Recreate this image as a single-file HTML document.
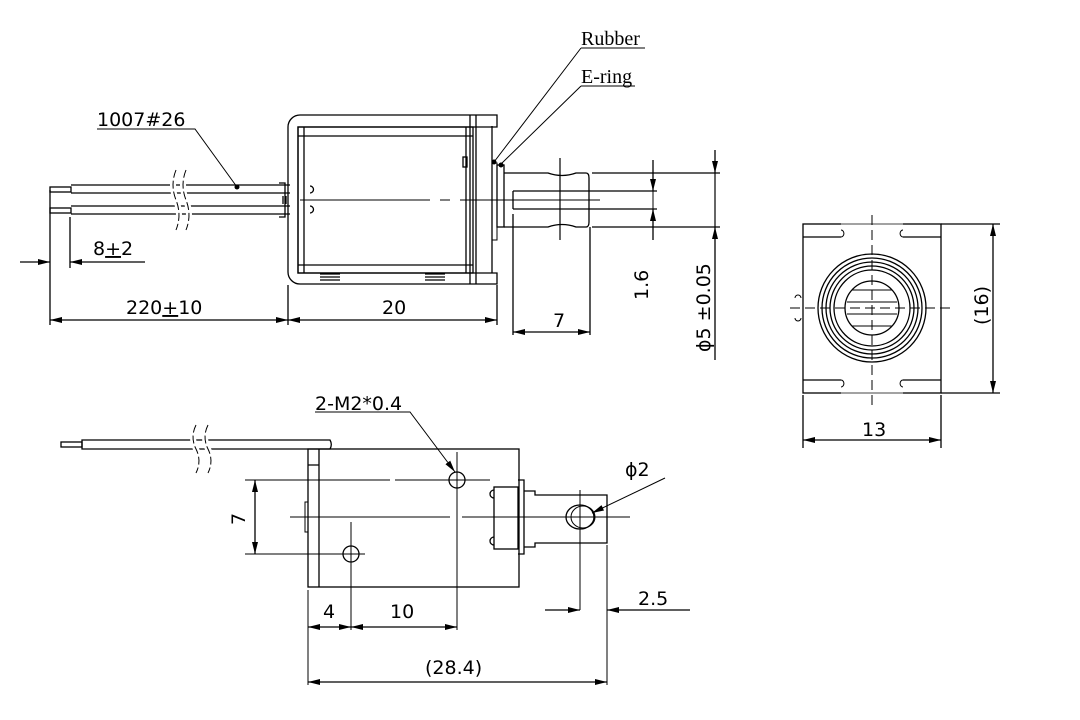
<!DOCTYPE html>
<html><head><meta charset="utf-8"><style>
html,body{margin:0;padding:0;background:#fff;}
svg{display:block;}
text{font-family:"DejaVu Sans","Liberation Sans",sans-serif;fill:#000;}
</style></head><body>
<svg width="1080" height="720" viewBox="0 0 1080 720" xmlns="http://www.w3.org/2000/svg">
<defs>
<marker id="a" viewBox="0 0 12 6" refX="12" refY="3" markerWidth="12" markerHeight="6" orient="auto-start-reverse" markerUnits="userSpaceOnUse"><path d="M0,0 L12,3 L0,6 Z" fill="#000"/></marker>
</defs>
<g fill="none" stroke="#000" stroke-width="1.3">
<!-- TOP VIEW wires -->
<rect x="50" y="187" width="21" height="5"/>
<rect x="50" y="208" width="21" height="5"/>
<path d="M71,185 H290 M71,193 H290 M71,206 H290 M71,214 H290"/>
<path d="M176,170 q-6,15 0,30 q6,15 0,30 M186,170 q-6,15 0,30 q6,15 0,30" stroke="#fff" stroke-width="6"/>
<path d="M176,170 q-6,15 0,30 q6,15 0,30 M186,170 q-6,15 0,30 q6,15 0,30" stroke-dasharray="8,3" stroke-width="1"/>
<path d="M279,183 h6 v34 h-6 M283,196 v8 M286,196 v8"/>
<path d="M310,186 a3.5,3.5 0 0 1 0,7 M310,206 a3.5,3.5 0 0 1 0,7"/>
<!-- body -->
<path d="M497,115 H300 a12,12 0 0 0 -12,12 V272 a12,12 0 0 0 12,12 H497 V273 H298 V127 H497 Z"/>
<rect x="298" y="127" width="175" height="146"/>
<path d="M304,127 V273 M298,136 H473 M298,265 H473 M466,127 V273 M470,115 V284 M476,115 V284 M492,126 V273"/>
<rect x="463" y="157" width="4" height="10"/>
<rect x="492" y="163" width="5" height="77" stroke-width="1"/>
<rect x="497" y="165" width="7" height="62"/>
<path d="M320,274 h20 M320,277 h20 M320,280 h20 M425,274 h20 M425,277 h20 M425,280 h20"/>
<!-- plunger -->
<path d="M504,173 H548 q14,5 28,0 H586 q3,0 3,5 V222 q0,5 -3,5 H576 q-14,-5 -28,0 H504"/>
<path d="M513,191 H657 M513,209 H657 M513,191 V209"/>
<path d="M592,173 H720 M592,227 H720"/>
<path d="M513,214 V335 M590,227 V335"/>
<path d="M560,158 V240" stroke-width="1.2"/>
<path d="M300,200 H430 M440,200 H450 M460,200 H600" stroke-width="1"/>
<!-- dims top -->
<path d="M653,160 V191" marker-end="url(#a)"/>
<path d="M653,240 V209" marker-end="url(#a)"/>
<path d="M653,191 V209" stroke-width="1"/>
<path d="M715,150 V173" marker-end="url(#a)"/>
<path d="M715,360 V227" marker-end="url(#a)"/>
<path d="M715,173 V227" stroke-width="1.2"/>
<path d="M50,190 V325 M70,217 V268 M288,285 V325 M497,285 V325"/>
<path d="M20,262 H50" marker-end="url(#a)"/>
<path d="M145,262 H70" marker-end="url(#a)"/>
<path d="M50,320 H288" marker-start="url(#a)" marker-end="url(#a)"/>
<path d="M288,320 H497" marker-start="url(#a)" marker-end="url(#a)"/>
<path d="M513,332 H590" marker-start="url(#a)" marker-end="url(#a)"/>
<!-- leaders -->
<path d="M97,129 H195 L237,187" stroke-width="1"/>
<path d="M581,48 H645 M581,48 L494,162" stroke-width="1"/>
<path d="M581,86 H635 M581,86 L500,165" stroke-width="1"/>
</g>
<circle cx="237" cy="187" r="2.5"/>
<circle cx="494" cy="162" r="2.5"/>
<circle cx="501" cy="165" r="2.5"/>
<text x="97" y="126" font-size="19">1007#26</text>
<text x="581" y="45" font-size="20" style="font-family:'Liberation Serif',serif">Rubber</text>
<text x="581" y="83" font-size="20" style="font-family:'Liberation Serif',serif">E-ring</text>
<text x="93" y="255" font-size="19">8<tspan text-decoration="underline">+</tspan>2</text>
<text x="126" y="314" font-size="19">220<tspan text-decoration="underline">+</tspan>10</text>
<text x="382" y="314" font-size="19">20</text>
<text x="553" y="327" font-size="19">7</text>
<text transform="translate(648,300) rotate(-90)" font-size="19">1.6</text>
<text transform="translate(710,352) rotate(-90)" font-size="19">ϕ5 ±0.05</text>

<!-- RIGHT VIEW -->
<g fill="none" stroke="#000" stroke-width="1.3">
<rect x="803" y="224" width="138" height="169"/>
<path d="M803,237 H841 M903,237 H941 M803,380 H841 M903,380 H941"/>
<path d="M841,230 a2.5,3 0 1 1 0,7 M903,230 a2.5,3 0 1 0 0,7 M841,380 a2.5,3 0 1 1 0,7 M903,380 a2.5,3 0 1 0 0,7" stroke-width="1"/>
<path d="M841,224 H903 M841,393 H903" stroke="#999" stroke-width="1.3"/>
<circle cx="872" cy="308" r="54"/>
<circle cx="872" cy="308" r="50"/>
<circle cx="872" cy="308" r="46"/>
<circle cx="872" cy="308" r="42"/>
<circle cx="872" cy="308" r="38"/>
<circle cx="872" cy="308" r="27"/>
<path d="M852,290 H892 M847,302 H897 M847,314 H897 M852,326 H892" stroke-width="1"/>
<path d="M872,215 V405 M790,308 H955" stroke-dasharray="10,5" stroke-width="1"/>
<path d="M795,298 a3,3 0 0 1 6,0 M795,318 a3,3 0 0 0 6,0" stroke-width="1"/>
<path d="M941,224 H1000 M941,393 H1000 M803,395 V448 M941,395 V448"/>
<path d="M993,224 V393" marker-start="url(#a)" marker-end="url(#a)"/>
<path d="M803,440 H941" marker-start="url(#a)" marker-end="url(#a)"/>
</g>
<text transform="translate(988,325) rotate(-90)" font-size="19">(16)</text>
<text x="862" y="436" font-size="19">13</text>

<!-- BOTTOM VIEW -->
<g fill="none" stroke="#000" stroke-width="1.3">
<rect x="61" y="442" width="21" height="5"/>
<path d="M82,440 H330 a9,9 0 0 1 0,9 H82 Z"/>
<path d="M196,425 q-6,12 0,24 q6,12 0,24 M208,425 q-6,12 0,24 q6,12 0,24" stroke="#fff" stroke-width="6"/>
<path d="M196,425 q-6,12 0,24 q6,12 0,24 M208,425 q-6,12 0,24 q6,12 0,24" stroke-dasharray="8,3" stroke-width="1"/>
<rect x="308" y="449" width="211" height="138"/>
<path d="M319,449 V587 M308,465 H319"/>
<path d="M305,502 h3 V532 h-3 Z" stroke-width="1"/>
<circle cx="457" cy="480" r="8"/>
<circle cx="351" cy="554" r="8"/>
<rect x="494" y="487" width="24" height="62"/>
<path d="M494,490 a3,3 0 0 0 0,8 M494,537 a3,3 0 0 0 0,8"/>
<path d="M518,480 H524 V554 H518"/>
<path d="M524,491 H535 V495 H607 V543 H535 V547 H524"/>
<ellipse cx="580" cy="517" rx="14" ry="12"/>
<ellipse cx="583" cy="517" rx="12" ry="11" stroke-width="1"/>
<path d="M245,480 H390 M395,480 H490 M245,554 H365 M290,517 H450 M462,517 H630" stroke-width="1"/>
<path d="M457,452 V630 M351,522 V630 M308,590 V685 M580,490 V610 M607,545 V685" stroke-width="1"/>
<path d="M255,480 V554" marker-start="url(#a)" marker-end="url(#a)"/>
<path d="M308,627 H351" marker-start="url(#a)" marker-end="url(#a)"/>
<path d="M351,627 H457" marker-start="url(#a)" marker-end="url(#a)"/>
<path d="M308,682 H607" marker-start="url(#a)" marker-end="url(#a)"/>
<path d="M545,610 H580" marker-end="url(#a)"/>
<path d="M690,610 H607" marker-end="url(#a)"/>
<path d="M315,412 H410 L455,472" stroke-width="1" marker-end="url(#a)"/>
<path d="M665,478 L592,513" stroke-width="1" marker-end="url(#a)"/>
</g>
<text x="315" y="410" font-size="19">2-M2*0.4</text>
<text x="625" y="476" font-size="19">ϕ2</text>
<text transform="translate(245,525) rotate(-90)" font-size="19">7</text>
<text x="323" y="618" font-size="19">4</text>
<text x="390" y="618" font-size="19">10</text>
<text x="425" y="674" font-size="19">(28.4)</text>
<text x="638" y="605" font-size="19">2.5</text>
</svg>
</body></html>
